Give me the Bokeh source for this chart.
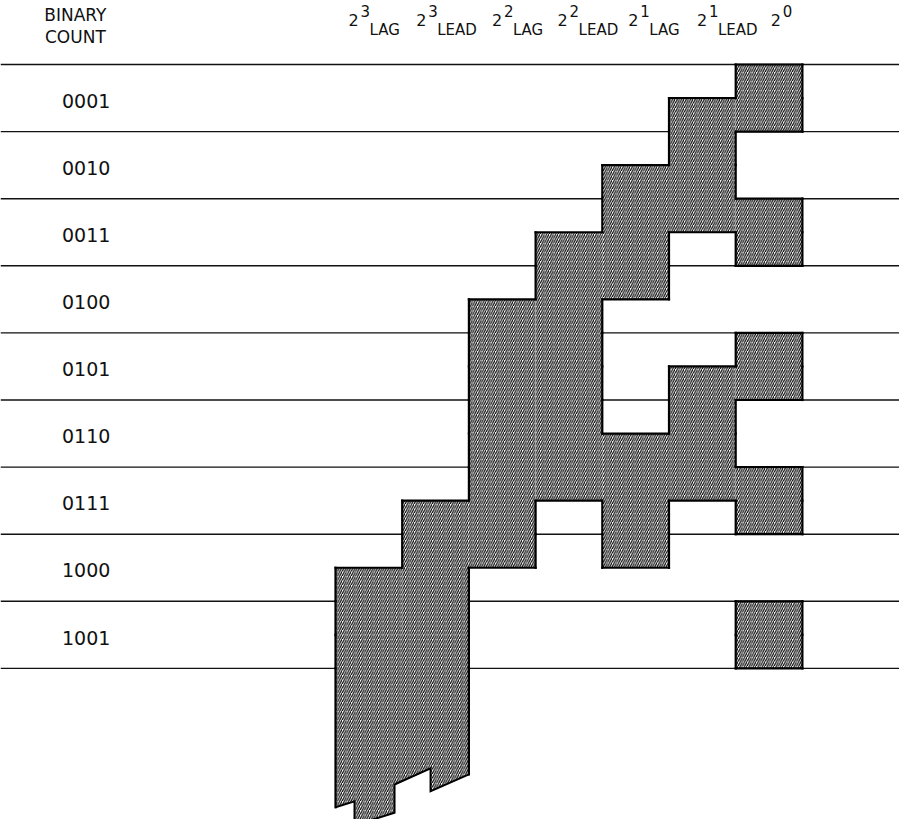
from bokeh.plotting import figure
from bokeh.models import Range1d
from bokeh.embed import file_html
from bokeh.resources import INLINE
from bokeh.core.properties import value

# ---------------- data ----------------
counts = ["0001", "0010", "0011", "0100", "0101", "0110", "0111", "1000", "1001"]
col_exp = ["3", "3", "2", "2", "1", "1", "0"]
col_sub = ["LAG", "LEAD", "LAG", "LEAD", "LAG", "LEAD", ""]

# high (shaded) intervals per column, in half-row units (0 = top of row 0001)
lag8 = [(15, 18)]
lead8 = [(13, 18)]
lag4 = [(7, 15)]
lead4 = [(5, 13)]
lag2 = [(3, 7), (11, 15)]
lead2 = [(1, 5), (9, 13)]
bit1 = [(0, 2), (4, 6), (8, 10), (12, 14), (16, 18)]
columns = [lag8, lead8, lag4, lead4, lag2, lead2, bit1]
continues_below = [True, True, False, False, False, False, False]

# torn-off lower end of the 2^3 columns (column units, row units)
tear_x = [0.0, 0.285, 0.285, 0.885, 0.885, 1.425, 1.425, 2.0]
tear_y = [11.07, 10.98, 11.34, 11.15, 10.73, 10.49, 10.83, 10.58]

# ---------------- layout ----------------
W, H = 899, 819
ROW_PX, COL_PX = 67.1, 66.7
TOP_PX, LEFT_PX = 64, 335          # canvas position of top line / first column
FONT = value("DejaVu Sans")
INK = "#111111"

x_range = Range1d(-LEFT_PX / COL_PX, (W - LEFT_PX) / COL_PX)
y_range = Range1d((H - TOP_PX) / ROW_PX, -TOP_PX / ROW_PX)

p = figure(width=W, height=H, x_range=x_range, y_range=y_range,
           output_backend="svg", toolbar_location=None, min_border=0,
           x_axis_location=None, y_axis_location=None,
           outline_line_color=None, background_fill_color="white",
           border_fill_color="white")
p.xgrid.visible = False
p.ygrid.visible = False

nrows = len(counts)
ncols = len(columns)
nhalf = 2 * nrows

# row lines
p.segment(x0=[x_range.start] * (nrows + 1), x1=[x_range.end] * (nrows + 1),
          y0=list(range(nrows + 1)), y1=list(range(nrows + 1)),
          line_color=INK, line_width=1.4)

# shaded grid
shaded = [[False] * nhalf for _ in range(ncols)]
L, R, T, B = [], [], [], []
for i, ivs in enumerate(columns):
    for a, b in ivs:
        L.append(i); R.append(i + 1); T.append(a / 2); B.append(b / 2)
        for t in range(a, b):
            shaded[i][t] = True

hatch = dict(fill_color="white", line_color=None, hatch_pattern="/",
             hatch_scale=4.5, hatch_color="black", hatch_weight=1.15)
p.quad(left=L, right=R, top=T, bottom=B, **hatch)

# tail below last row for continuing columns
cont = [i for i, c in enumerate(continues_below) if c]
cx0, cx1 = min(cont), max(cont) + 1
tail_xs = [cx0, cx1] + tear_x[::-1]
tail_ys = [nrows - 0.5, nrows - 0.5] + tear_y[::-1]
p.patch(tail_xs, tail_ys, **hatch)


def sh(i, t):
    if i < 0 or i >= ncols:
        return False
    if t < 0:
        return False
    if t >= nhalf:
        return continues_below[i] and shaded[i][nhalf - 1]
    return shaded[i][t]


sx0, sy0, sx1, sy1 = [], [], [], []
for i in range(ncols + 1):
    for t in range(nhalf):
        if sh(i - 1, t) != sh(i, t):
            sx0.append(i); sx1.append(i); sy0.append(t / 2); sy1.append((t + 1) / 2)
for t in range(nhalf + 1):
    for i in range(ncols):
        if sh(i, t - 1) != sh(i, t):
            sx0.append(i); sx1.append(i + 1); sy0.append(t / 2); sy1.append(t / 2)
# tail sides
sx0 += [cx0, cx1]; sx1 += [cx0, cx1]
sy0 += [nrows, nrows]; sy1 += [tear_y[0], tear_y[-1]]
p.segment(x0=sx0, y0=sy0, x1=sx1, y1=sy1, line_color="black",
          line_width=2.2, line_cap="square")
p.line(tear_x, tear_y, line_color="black", line_width=2.0, line_join="miter")

# row labels
p.text(x=[-4.1] * nrows, y=[r + 0.54 for r in range(nrows)], text=counts,
       text_font=FONT, text_font_size="19px", text_color=INK,
       text_align="left", text_baseline="middle")

# header
p.text(x=[-3.9, -3.9], y=[-0.745, -0.41], text=["BINARY", "COUNT"],
       text_font=FONT, text_font_size="17px", text_color=INK,
       text_align="center", text_baseline="middle")

head_dx = [13, 14, 23, 22, 26, 28, 35]
xs = list(range(ncols))
p.text(x=xs, y=[-0.666] * ncols, text=["2"] * ncols, x_offset=head_dx,
       text_font=FONT, text_font_size="16px", text_color=INK,
       text_align="left", text_baseline="alphabetic")
p.text(x=xs, y=[-0.80] * ncols, text=col_exp, x_offset=[d + 12 for d in head_dx],
       text_font=FONT, text_font_size="15px", text_color=INK,
       text_align="left", text_baseline="alphabetic")
p.text(x=xs[:-1], y=[-0.52] * (ncols - 1), text=col_sub[:-1],
       x_offset=[d + 21 for d in head_dx[:-1]],
       text_font=FONT, text_font_size="15px", text_color=INK,
       text_align="left", text_baseline="alphabetic")

open("out.html", "w").write(file_html(p, INLINE))
